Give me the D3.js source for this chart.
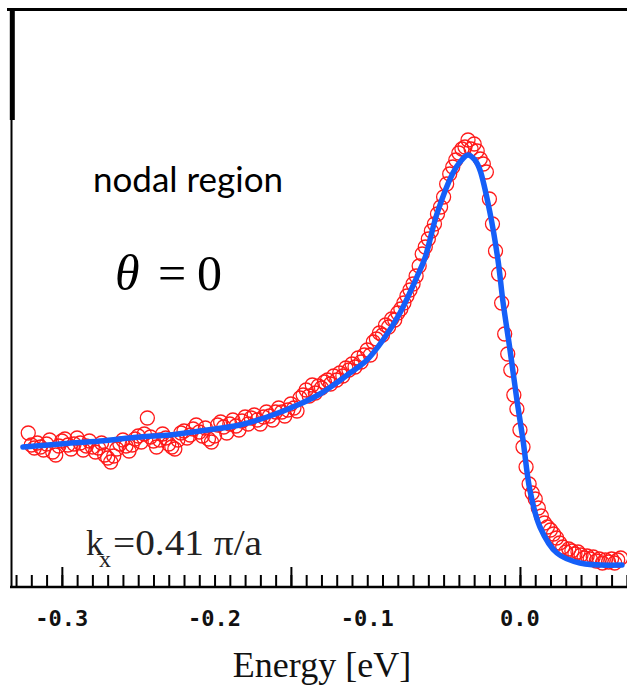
<!DOCTYPE html>
<html>
<head>
<meta charset="utf-8">
<script src="https://cdn.jsdelivr.net/npm/d3@7"></script>
<style>
  html, body { margin: 0; padding: 0; background: #fff; }
  svg { display: block; }
</style>
</head>
<body>
<div id="chart"></div>
<script>
// measured spectrum (EDC), energy in eV, intensity in arb. units
const energy = [
  -0.322,-0.320,-0.318,-0.316,-0.314,-0.312,-0.310,-0.308,-0.306,-0.304,
  -0.302,-0.300,-0.298,-0.296,-0.294,-0.292,-0.290,-0.288,-0.286,-0.284,
  -0.282,-0.280,-0.278,-0.276,-0.274,-0.272,-0.270,-0.268,-0.266,-0.264,
  -0.262,-0.260,-0.258,-0.256,-0.254,-0.252,-0.250,-0.248,-0.246,-0.244,
  -0.242,-0.240,-0.238,-0.236,-0.234,-0.232,-0.230,-0.228,-0.226,-0.224,
  -0.222,-0.220,-0.218,-0.216,-0.214,-0.212,-0.210,-0.208,-0.206,-0.204,
  -0.202,-0.200,-0.198,-0.196,-0.194,-0.192,-0.190,-0.188,-0.186,-0.184,
  -0.182,-0.180,-0.178,-0.176,-0.174,-0.172,-0.170,-0.168,-0.166,-0.164,
  -0.162,-0.160,-0.158,-0.156,-0.154,-0.152,-0.150,-0.148,-0.146,-0.144,
  -0.142,-0.140,-0.138,-0.136,-0.134,-0.132,-0.130,-0.128,-0.126,-0.124,
  -0.122,-0.120,-0.118,-0.116,-0.114,-0.112,-0.110,-0.108,-0.106,-0.104,
  -0.102,-0.100,-0.098,-0.096,-0.094,-0.092,-0.090,-0.088,-0.086,-0.084,
  -0.082,-0.080,-0.078,-0.076,-0.074,-0.072,-0.070,-0.068,-0.066,-0.064,
  -0.062,-0.060,-0.058,-0.056,-0.054,-0.052,-0.050,-0.048,-0.046,-0.044,
  -0.042,-0.040,-0.038,-0.036,-0.034,-0.032,-0.030,-0.028,-0.026,-0.024,
  -0.022,-0.020,-0.018,-0.016,-0.014,-0.012,-0.010,-0.008,-0.006,-0.004,
  -0.002, 0.000, 0.002, 0.004, 0.006, 0.008, 0.010, 0.012, 0.014, 0.016,
   0.018, 0.020, 0.022, 0.024, 0.026, 0.028, 0.030, 0.032, 0.034, 0.036,
   0.038, 0.040, 0.042, 0.044, 0.046, 0.048, 0.050, 0.052, 0.054, 0.056,
   0.058, 0.060, 0.062, 0.064, 0.066
];
const intensity = [
  30.8,28.4,27.8,28.8,28.0,27.4,28.6,29.4,27.0,26.4,
  28.2,29.2,29.6,28.4,27.6,28.6,29.8,28.8,27.4,28.2,
  29.2,28.0,27.0,27.8,28.8,26.4,25.8,25.0,26.2,27.6,
  28.6,29.4,28.2,27.2,28.4,29.6,30.2,29.0,30.6,33.8,
  30.0,29.2,28.0,29.4,30.6,29.8,28.6,28.0,27.6,29.4,
  30.8,31.2,29.8,30.4,31.6,32.4,31.0,30.2,31.8,29.6,
  29.0,30.2,32.4,33.0,32.0,30.8,32.6,33.4,32.2,31.4,
  33.2,34.0,32.6,33.8,34.4,33.4,32.6,34.0,35.0,34.2,
  33.4,35.0,35.8,35.0,34.2,35.4,36.6,35.8,35.2,37.8,
  38.4,39.4,38.2,40.4,38.8,40.2,39.8,41.0,41.4,40.6,
  42.2,41.4,42.8,42.2,43.8,43.4,44.6,44.0,45.8,45.0,
  46.4,47.4,46.4,49.0,49.6,50.8,50.4,52.4,52.0,53.6,
  53.4,54.8,55.6,56.8,58.2,59.4,60.6,62.2,64.2,66.6,
  68.0,69.6,71.2,72.6,74.6,76.0,78.0,80.6,82.6,84.0,
  85.4,86.8,87.6,88.0,89.4,87.6,88.6,87.2,85.6,84.6,
  83.0,77.6,72.6,67.2,62.6,56.8,50.6,46.6,43.4,38.4,
  35.6,31.4,28.0,24.0,20.6,18.8,17.6,15.8,14.2,12.8,
  12.0,11.4,10.6,9.8,8.8,8.0,7.0,7.6,7.2,6.6,
  7.0,6.4,5.8,6.2,5.6,6.0,5.2,5.6,4.8,5.4,
  5.0,5.6,4.8,5.4,5.8
];

// fitted curve
const fitEnergy = [
  -0.3255,-0.3012,-0.2750,-0.2489,-0.2292,-0.2096,-0.1834,-0.1637,-0.1441,-0.1310,
  -0.1212,-0.1113,-0.1002,-0.0897,-0.0786,-0.0675,-0.0622,-0.0544,-0.0439,-0.0393,
  -0.0341,-0.0295,-0.0262,-0.0196,-0.0144,-0.0111,-0.0065,-0.0020,0.0020,0.0065,
  0.0131,0.0242,0.0393,0.0668
];
const fitIntensity = [
  28.0,28.6,29.2,30.0,30.4,31.2,32.4,34.2,36.6,38.6,
  40.6,42.8,45.4,49.4,54.8,62.0,65.8,74.6,82.8,85.0,
  86.4,85.4,83.4,74.8,65.4,57.0,47.4,37.4,29.4,19.4,
  12.0,6.8,4.8,4.4
];

const labelTicks = [-0.3, -0.2, -0.1, 0.0];
const majorTicks = [-0.3, -0.15, 0.0];

const W = 627, H = 685;
const svg = d3.select("#chart").append("svg")
  .attr("width", W)
  .attr("height", H);

const x = d3.scaleLinear().domain([-0.3333, 0.0701]).range([11, 627]);
const y = d3.scaleLinear().domain([0, 115.4]).range([587, 10]);

// frame pieces
svg.append("line")
  .attr("x1", 7).attr("x2", W).attr("y1", 9.5).attr("y2", 9.5)
  .attr("stroke", "#000").attr("stroke-width", 3);
svg.append("line")
  .attr("x1", 12.3).attr("x2", 12.3).attr("y1", 9).attr("y2", 120)
  .attr("stroke", "#000").attr("stroke-width", 5);
svg.append("line")
  .attr("x1", 11.5).attr("x2", 11.5).attr("y1", 118).attr("y2", 588)
  .attr("stroke", "#000").attr("stroke-width", 2);

// x axis with inward ticks
const minorTicks = d3.range(-33, 8).map(i => i / 100);
const xAxisMinor = d3.axisBottom(x)
  .tickValues(minorTicks)
  .tickSizeInner(-12)
  .tickSizeOuter(0)
  .tickFormat("");
const gx = svg.append("g")
  .attr("transform", "translate(0,587)")
  .call(xAxisMinor);
gx.select(".domain").attr("stroke-width", 2.5).attr("d", "M10,0H627");
gx.selectAll(".tick line").attr("stroke-width", 2);

const xAxisMajor = d3.axisBottom(x)
  .tickValues(majorTicks)
  .tickSizeInner(-20)
  .tickSizeOuter(0)
  .tickFormat("");
const gx2 = svg.append("g")
  .attr("transform", "translate(0,587)")
  .call(xAxisMajor);
gx2.select(".domain").remove();
gx2.selectAll(".tick line").attr("stroke-width", 2);

const fmt = d => d3.format(".1f")(d).replace("\u2212", "-");
svg.append("g").selectAll("text")
  .data(labelTicks)
  .enter().append("text")
  .attr("x", d => x(d))
  .attr("y", 626)
  .attr("text-anchor", "middle")
  .attr("font-family", "DejaVu Sans Mono")
  .attr("font-weight", "bold")
  .attr("font-size", 22)
  .attr("fill", "#111")
  .text(fmt);

svg.append("text")
  .attr("x", 322)
  .attr("y", 677)
  .attr("text-anchor", "middle")
  .attr("font-family", "Liberation Serif")
  .attr("font-size", 36)
  .attr("fill", "#111")
  .text("Energy [eV]");

// data points
const points = energy.map((e, i) => ({e: e, v: intensity[i]}));
svg.append("g").selectAll("circle")
  .data(points)
  .enter().append("circle")
  .attr("cx", d => x(d.e))
  .attr("cy", d => y(d.v))
  .attr("r", 7)
  .attr("fill", "none")
  .attr("stroke", "#ff1a1a")
  .attr("stroke-width", 1.3);

// fit line
const fit = fitEnergy.map((e, i) => ({e: e, v: fitIntensity[i]}));
svg.append("path")
  .datum(fit)
  .attr("fill", "none")
  .attr("stroke", "#155ff8")
  .attr("stroke-width", 5.5)
  .attr("stroke-linecap", "round")
  .attr("stroke-linejoin", "round")
  .attr("d", d3.line()
    .x(d => x(d.e))
    .y(d => y(d.v))
    .curve(d3.curveCatmullRom.alpha(0.5)));

// annotations
svg.append("text")
  .attr("x", 93).attr("y", 192)
  .attr("font-family", "Lato")
  .attr("font-size", 35)
  .attr("fill", "#000")
  .text("nodal region");

const th = svg.append("text")
  .attr("y", 290)
  .attr("font-family", "Liberation Serif")
  .attr("font-size", 50)
  .attr("fill", "#000");
th.append("tspan").attr("x", 115).attr("font-style", "italic").text("θ");
th.append("tspan").attr("x", 158).text("=");
th.append("tspan").attr("x", 197).text("0");

const kx = svg.append("text")
  .attr("font-family", "Liberation Serif")
  .attr("fill", "#222");
kx.append("tspan").attr("x", 86).attr("y", 555).attr("font-size", 35).text("k");
kx.append("tspan").attr("x", 99).attr("y", 567).attr("font-size", 24).text("x");
kx.append("tspan").attr("x", 113).attr("y", 555).attr("font-size", 35)
  .attr("textLength", 149).attr("lengthAdjust", "spacingAndGlyphs")
  .text("=0.41 π/a");
</script>
</body>
</html>
